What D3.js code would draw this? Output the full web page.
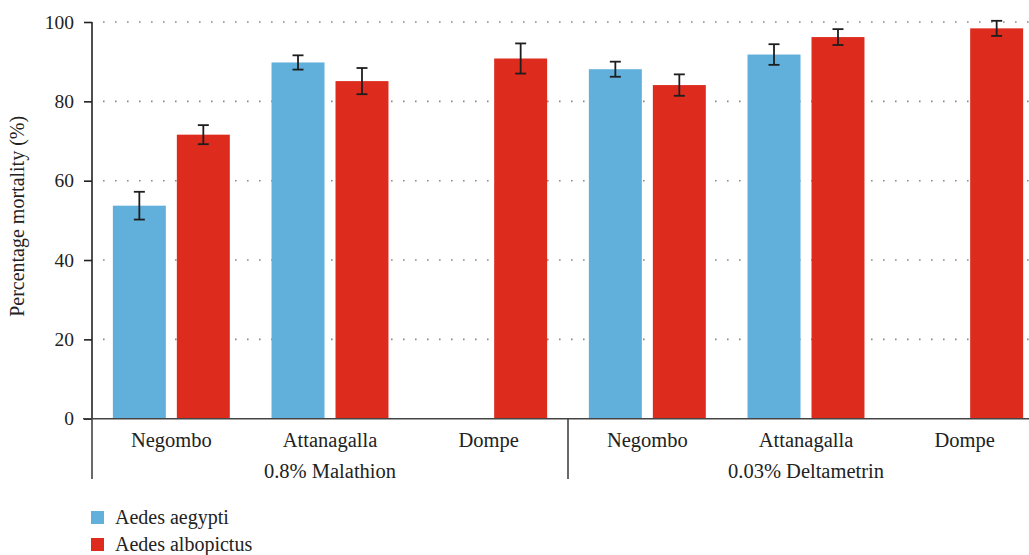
<!DOCTYPE html>
<html>
<head>
<meta charset="utf-8">
<script src="https://cdn.jsdelivr.net/npm/d3@7"></script>
<style>
  html, body { margin: 0; padding: 0; background: #fff; }
  svg { display: block; font-family: "Liberation Serif", "Times New Roman", serif; }
  svg text { font-family: "Liberation Serif", "Times New Roman", serif; }
</style>
</head>
<body>
<svg id="chart" width="1029" height="555"></svg>
<script>
// Mortality of Aedes mosquitoes in WHO bioassays by insecticide and site
const treatments = ["0.8% Malathion", "0.03% Deltametrin"];
const sites = ["Negombo", "Attanagalla", "Dompe"];
const species = ["Aedes aegypti", "Aedes albopictus"];

// mean mortality (%) per treatment, in site order; null = not tested
const aegyptiMean = [[53.7, 89.8, null], [88.1, 91.8, null]];
const aegyptiErr  = [[3.5, 1.8, null], [1.9, 2.6, null]];
const albopictusMean = [[71.6, 85.1, 90.8], [84.1, 96.2, 98.4]];
const albopictusErr  = [[2.4, 3.3, 3.8], [2.7, 2.0, 1.9]];

const yTicks = [0, 20, 40, 60, 80, 100];
const colors = ["#60B0DB", "#DD2C1E"];

const svg = d3.select("#chart");
const margin = { left: 92, top: 22, bottom: 418.7 };
const xRight = 1044;

const y = d3.scaleLinear().domain([0, 100]).range([margin.bottom, margin.top]);
const xGroup = d3.scaleBand().domain(treatments).range([margin.left, xRight]);
const xSite = d3.scaleBand().domain(sites).range([0, xGroup.bandwidth()]);
const xSpecies = d3.scaleBand().domain(species).range([0, xSite.bandwidth()])
  .paddingInner(0.172).paddingOuter(0.326);

// dotted horizontal gridlines
svg.append("g").selectAll("line")
  .data(yTicks.filter(d => d > 0))
  .join("line")
  .attr("x1", margin.left + 11).attr("x2", 1029)
  .attr("y1", d => y(d)).attr("y2", d => y(d))
  .attr("stroke", "#8a8a8a").attr("stroke-width", 1.6)
  .attr("stroke-dasharray", "1.6,10.4");

// flatten data into records
const records = [];
treatments.forEach((t, ti) => {
  sites.forEach((s, si) => {
    [[aegyptiMean, aegyptiErr], [albopictusMean, albopictusErr]].forEach(([m, e], k) => {
      const v = m[ti][si];
      if (v == null) return;
      records.push({ t, s, sp: species[k], k, v, err: e[ti][si] });
    });
  });
});
const xOf = d => xGroup(d.t) + xSite(d.s) + xSpecies(d.sp);

svg.append("g").selectAll("rect")
  .data(records).join("rect")
  .attr("x", xOf)
  .attr("width", xSpecies.bandwidth())
  .attr("y", d => y(d.v))
  .attr("height", d => y(0) - y(d.v))
  .attr("fill", d => colors[d.k]);

// error bars
const eb = svg.append("g").attr("stroke", "#1e1e1e").attr("stroke-width", 1.8).attr("fill", "none");
records.forEach(d => {
  const cx = xOf(d) + xSpecies.bandwidth() / 2;
  const hi = y(d.v + d.err), lo = y(d.v - d.err);
  eb.append("line").attr("x1", cx).attr("x2", cx).attr("y1", hi).attr("y2", lo);
  eb.append("line").attr("x1", cx - 5.5).attr("x2", cx + 5.5).attr("y1", hi).attr("y2", hi);
  eb.append("line").attr("x1", cx - 5.5).attr("x2", cx + 5.5).attr("y1", lo).attr("y2", lo);
});

// y axis
const yAxis = svg.append("g")
  .attr("transform", `translate(${margin.left},0)`)
  .call(d3.axisLeft(y).tickValues(yTicks).tickSize(8).tickPadding(10));
yAxis.attr("font-family", null);
yAxis.select(".domain").attr("d", `M-0,${y(100)}V${y(0)}`);
yAxis.selectAll("path, line").attr("stroke", "#222").attr("stroke-width", 1.6);
yAxis.selectAll("text").attr("font-size", 19.5).attr("fill", "#222");

// x axis baseline and frame lines
const frame = svg.append("g").attr("stroke", "#444").attr("stroke-width", 1.6);
frame.append("line").attr("x1", 83).attr("x2", 1029).attr("y1", y(0)).attr("y2", y(0));
frame.append("line").attr("x1", margin.left).attr("x2", margin.left).attr("y1", y(0)).attr("y2", 479);
frame.append("line").attr("x1", xGroup(treatments[1])).attr("x2", xGroup(treatments[1]))
  .attr("y1", y(0)).attr("y2", 479);

// site labels
treatments.forEach(t => {
  svg.append("g").selectAll("text")
    .data(sites).join("text")
    .attr("x", s => xGroup(t) + xSite(s) + xSite.bandwidth() / 2)
    .attr("y", 447)
    .attr("text-anchor", "middle")
    .attr("font-size", 20.5).attr("fill", "#222")
    .text(s => s);
});

// treatment labels
svg.append("g").selectAll("text")
  .data(treatments).join("text")
  .attr("x", t => xGroup(t) + xGroup.bandwidth() / 2)
  .attr("y", 478)
  .attr("text-anchor", "middle")
  .attr("font-size", 20.5).attr("fill", "#222")
  .text(t => t);

// y axis title
svg.append("text")
  .attr("transform", `translate(24,${(y(0) + y(100)) / 2 - 4}) rotate(-90)`)
  .attr("text-anchor", "middle")
  .attr("font-size", 20).attr("fill", "#222")
  .text("Percentage mortality (%)");

// legend
const legend = svg.append("g").selectAll("g")
  .data(species).join("g")
  .attr("transform", (d, i) => `translate(91,${511 + i * 27})`);
legend.append("rect").attr("width", 13).attr("height", 13).attr("fill", (d, i) => colors[i]);
legend.append("text").attr("x", 24).attr("y", 13).attr("font-size", 20).attr("fill", "#222")
  .text(d => d);
</script>
</body>
</html>
